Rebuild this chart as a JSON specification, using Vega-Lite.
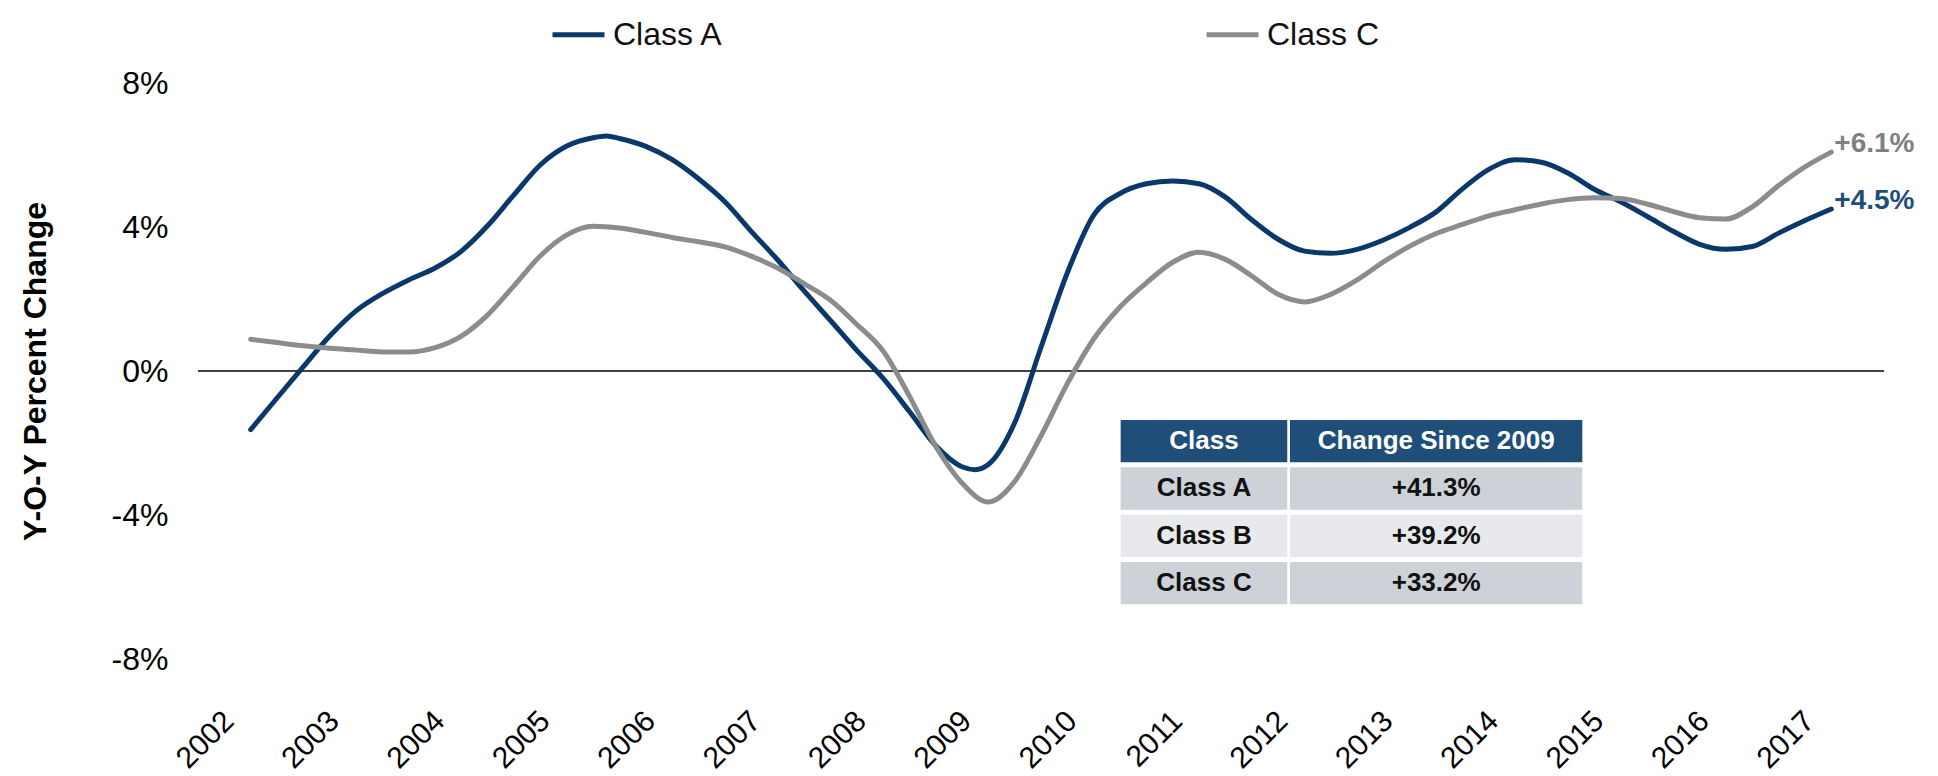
{
  "$schema": "https://vega.github.io/schema/vega-lite/v6.json",
  "width": 1686,
  "height": 576,
  "autosize": "none",
  "padding": {"left": 198, "top": 83, "right": 54, "bottom": 117},
  "background": "white",
  "config": {
    "font": "Liberation Sans, Arial, sans-serif",
    "view": {"stroke": null}
  },
  "datasets": {
    "series": [
      {"t": 2002.00, "series": "Class A", "v": -1.63},
      {"t": 2002.25, "series": "Class A", "v": -0.75},
      {"t": 2002.50, "series": "Class A", "v": 0.12},
      {"t": 2002.75, "series": "Class A", "v": 0.97},
      {"t": 2003.00, "series": "Class A", "v": 1.67},
      {"t": 2003.25, "series": "Class A", "v": 2.15},
      {"t": 2003.50, "series": "Class A", "v": 2.53},
      {"t": 2003.75, "series": "Class A", "v": 2.86},
      {"t": 2004.00, "series": "Class A", "v": 3.33},
      {"t": 2004.25, "series": "Class A", "v": 4.04},
      {"t": 2004.50, "series": "Class A", "v": 4.90},
      {"t": 2004.75, "series": "Class A", "v": 5.73},
      {"t": 2005.00, "series": "Class A", "v": 6.25},
      {"t": 2005.25, "series": "Class A", "v": 6.48},
      {"t": 2005.375, "series": "Class A", "v": 6.53},
      {"t": 2005.50, "series": "Class A", "v": 6.46},
      {"t": 2005.75, "series": "Class A", "v": 6.24},
      {"t": 2006.00, "series": "Class A", "v": 5.87},
      {"t": 2006.25, "series": "Class A", "v": 5.34},
      {"t": 2006.50, "series": "Class A", "v": 4.70},
      {"t": 2006.75, "series": "Class A", "v": 3.88},
      {"t": 2007.00, "series": "Class A", "v": 3.09},
      {"t": 2007.25, "series": "Class A", "v": 2.23},
      {"t": 2007.50, "series": "Class A", "v": 1.41},
      {"t": 2007.75, "series": "Class A", "v": 0.58},
      {"t": 2008.00, "series": "Class A", "v": -0.20},
      {"t": 2008.25, "series": "Class A", "v": -1.12},
      {"t": 2008.50, "series": "Class A", "v": -2.07},
      {"t": 2008.75, "series": "Class A", "v": -2.66},
      {"t": 2008.875, "series": "Class A", "v": -2.74},
      {"t": 2009.00, "series": "Class A", "v": -2.60},
      {"t": 2009.25, "series": "Class A", "v": -1.44},
      {"t": 2009.50, "series": "Class A", "v": 0.66},
      {"t": 2009.75, "series": "Class A", "v": 2.73},
      {"t": 2010.00, "series": "Class A", "v": 4.33},
      {"t": 2010.25, "series": "Class A", "v": 4.93},
      {"t": 2010.50, "series": "Class A", "v": 5.20},
      {"t": 2010.75, "series": "Class A", "v": 5.28},
      {"t": 2011.00, "series": "Class A", "v": 5.20},
      {"t": 2011.25, "series": "Class A", "v": 4.83},
      {"t": 2011.50, "series": "Class A", "v": 4.20},
      {"t": 2011.75, "series": "Class A", "v": 3.66},
      {"t": 2012.00, "series": "Class A", "v": 3.33},
      {"t": 2012.25, "series": "Class A", "v": 3.27},
      {"t": 2012.50, "series": "Class A", "v": 3.38},
      {"t": 2012.75, "series": "Class A", "v": 3.64},
      {"t": 2013.00, "series": "Class A", "v": 3.99},
      {"t": 2013.25, "series": "Class A", "v": 4.42},
      {"t": 2013.50, "series": "Class A", "v": 5.06},
      {"t": 2013.75, "series": "Class A", "v": 5.60},
      {"t": 2014.00, "series": "Class A", "v": 5.87},
      {"t": 2014.25, "series": "Class A", "v": 5.80},
      {"t": 2014.50, "series": "Class A", "v": 5.50},
      {"t": 2014.75, "series": "Class A", "v": 5.05},
      {"t": 2015.00, "series": "Class A", "v": 4.70},
      {"t": 2015.25, "series": "Class A", "v": 4.30},
      {"t": 2015.50, "series": "Class A", "v": 3.88},
      {"t": 2015.75, "series": "Class A", "v": 3.52},
      {"t": 2016.00, "series": "Class A", "v": 3.38},
      {"t": 2016.25, "series": "Class A", "v": 3.46},
      {"t": 2016.50, "series": "Class A", "v": 3.83},
      {"t": 2016.75, "series": "Class A", "v": 4.18},
      {"t": 2017.00, "series": "Class A", "v": 4.50},
      {"t": 2002.00, "series": "Class C", "v": 0.88},
      {"t": 2002.25, "series": "Class C", "v": 0.79},
      {"t": 2002.50, "series": "Class C", "v": 0.70},
      {"t": 2002.75, "series": "Class C", "v": 0.63},
      {"t": 2003.00, "series": "Class C", "v": 0.58},
      {"t": 2003.25, "series": "Class C", "v": 0.53},
      {"t": 2003.50, "series": "Class C", "v": 0.53},
      {"t": 2003.75, "series": "Class C", "v": 0.65},
      {"t": 2004.00, "series": "Class C", "v": 0.97},
      {"t": 2004.25, "series": "Class C", "v": 1.56},
      {"t": 2004.50, "series": "Class C", "v": 2.37},
      {"t": 2004.75, "series": "Class C", "v": 3.20},
      {"t": 2005.00, "series": "Class C", "v": 3.78},
      {"t": 2005.25, "series": "Class C", "v": 4.02},
      {"t": 2005.50, "series": "Class C", "v": 3.97},
      {"t": 2005.75, "series": "Class C", "v": 3.85},
      {"t": 2006.00, "series": "Class C", "v": 3.71},
      {"t": 2006.25, "series": "Class C", "v": 3.59},
      {"t": 2006.50, "series": "Class C", "v": 3.45},
      {"t": 2006.75, "series": "Class C", "v": 3.19},
      {"t": 2007.00, "series": "Class C", "v": 2.86},
      {"t": 2007.25, "series": "Class C", "v": 2.43},
      {"t": 2007.50, "series": "Class C", "v": 1.97},
      {"t": 2007.75, "series": "Class C", "v": 1.30},
      {"t": 2008.00, "series": "Class C", "v": 0.56},
      {"t": 2008.25, "series": "Class C", "v": -0.69},
      {"t": 2008.50, "series": "Class C", "v": -2.09},
      {"t": 2008.75, "series": "Class C", "v": -3.11},
      {"t": 2009.00, "series": "Class C", "v": -3.64},
      {"t": 2009.25, "series": "Class C", "v": -3.07},
      {"t": 2009.50, "series": "Class C", "v": -1.80},
      {"t": 2009.75, "series": "Class C", "v": -0.35},
      {"t": 2010.00, "series": "Class C", "v": 0.89},
      {"t": 2010.25, "series": "Class C", "v": 1.78},
      {"t": 2010.50, "series": "Class C", "v": 2.45},
      {"t": 2010.75, "series": "Class C", "v": 3.02},
      {"t": 2011.00, "series": "Class C", "v": 3.30},
      {"t": 2011.25, "series": "Class C", "v": 3.10},
      {"t": 2011.50, "series": "Class C", "v": 2.64},
      {"t": 2011.75, "series": "Class C", "v": 2.13},
      {"t": 2012.00, "series": "Class C", "v": 1.92},
      {"t": 2012.25, "series": "Class C", "v": 2.13},
      {"t": 2012.50, "series": "Class C", "v": 2.53},
      {"t": 2012.75, "series": "Class C", "v": 3.03},
      {"t": 2013.00, "series": "Class C", "v": 3.47},
      {"t": 2013.25, "series": "Class C", "v": 3.82},
      {"t": 2013.50, "series": "Class C", "v": 4.07},
      {"t": 2013.75, "series": "Class C", "v": 4.31},
      {"t": 2014.00, "series": "Class C", "v": 4.48},
      {"t": 2014.25, "series": "Class C", "v": 4.64},
      {"t": 2014.50, "series": "Class C", "v": 4.76},
      {"t": 2014.75, "series": "Class C", "v": 4.81},
      {"t": 2015.00, "series": "Class C", "v": 4.79},
      {"t": 2015.25, "series": "Class C", "v": 4.64},
      {"t": 2015.50, "series": "Class C", "v": 4.43},
      {"t": 2015.75, "series": "Class C", "v": 4.26},
      {"t": 2016.00, "series": "Class C", "v": 4.22},
      {"t": 2016.25, "series": "Class C", "v": 4.56},
      {"t": 2016.50, "series": "Class C", "v": 5.15},
      {"t": 2016.75, "series": "Class C", "v": 5.67},
      {"t": 2017.00, "series": "Class C", "v": 6.08}
    ],
    "table": [
      {"row": "Class", "c1": "Class", "c2": "Change Since 2009"},
      {"row": "Class A", "c1": "Class A", "c2": "+41.3%"},
      {"row": "Class B", "c1": "Class B", "c2": "+39.2%"},
      {"row": "Class C", "c1": "Class C", "c2": "+33.2%"}
    ]
  },
  "layer": [
    {
      "layer": [
        {
          "data": {"values": [{}]},
          "mark": {"type": "rule", "color": "#000000", "strokeWidth": 1.3},
          "encoding": {"y": {"datum": 0, "type": "quantitative"}}
        },
        {
          "data": {"name": "series"},
          "mark": {"type": "line", "interpolate": "monotone", "strokeWidth": 5, "strokeCap": "round", "strokeJoin": "round"},
          "encoding": {
            "x": {
              "field": "t", "type": "quantitative",
              "scale": {"domain": [2001.5, 2017.5], "nice": false, "zero": false},
              "axis": {
                "values": [2002, 2003, 2004, 2005, 2006, 2007, 2008, 2009, 2010, 2011, 2012, 2013, 2014, 2015, 2016, 2017],
                "format": "d", "title": null, "labelAngle": -45, "labelAlign": "right", "labelBaseline": "middle",
                "labelFontSize": 30, "labelColor": "#000000", "labelPadding": 57, "labelOffset": -22,
                "ticks": false, "domain": false, "grid": false, "labelFlush": false, "labelOverlap": false, "labelBound": false
              }
            },
            "y": {
              "field": "v", "type": "quantitative",
              "scale": {"domain": [-8, 8], "nice": false, "zero": false},
              "axis": {
                "values": [-8, -4, 0, 4, 8], "labelExpr": "datum.value + '%'",
                "labelFontSize": 32, "labelColor": "#000000", "labelPadding": 30,
                "ticks": false, "domain": false, "grid": false,
                "title": "Y-O-Y Percent Change", "titleFontSize": 32, "titleFontWeight": "bold", "titleColor": "#000000",
                "titleX": -163, "titleBaseline": "middle"
              }
            },
            "color": {
              "field": "series", "type": "nominal",
              "scale": {"domain": ["Class A", "Class C"], "range": ["#0B386A", "#8C8C8C"]},
              "legend": {
                "orient": "none", "legendX": 352, "legendY": -77, "direction": "horizontal", "columns": 2,
                "columnPadding": 472, "symbolType": "stroke", "symbolSize": 2704, "symbolStrokeWidth": 5,
                "labelFontSize": 32, "labelColor": "#111111", "labelOffset": 6, "title": null, "padding": 0
              }
            }
          }
        },
        {
          "data": {"name": "series"},
          "transform": [
            {"filter": "datum.t === 2017"},
            {"calculate": "format(datum.v, '+.1f') + '%'", "as": "label"}
          ],
          "mark": {"type": "text", "align": "left", "baseline": "middle", "dx": 3, "dy": -8, "fontSize": 28, "fontWeight": "bold"},
          "encoding": {
            "x": {"field": "t", "type": "quantitative"},
            "y": {"field": "v", "type": "quantitative"},
            "text": {"field": "label"},
            "color": {"condition": {"test": "datum.series === 'Class A'", "value": "#1F4E79"}, "value": "#808080"}
          }
        }
      ]
    },
    {
      "data": {"name": "table"},
      "encoding": {
        "y": {
          "field": "row", "type": "ordinal",
          "scale": {"type": "band", "domain": ["Class", "Class A", "Class B", "Class C"], "range": [337, 521.3], "paddingInner": 0.105, "paddingOuter": 0},
          "axis": null
        }
      },
      "layer": [
        {
          "mark": {"type": "rect"},
          "encoding": {
            "x": {"datum": 2010.256, "type": "quantitative", "axis": null, "scale": {"domain": [2001.5, 2017.5], "nice": false, "zero": false}},
            "x2": {"datum": 2011.837},
            "color": {"condition": [{"test": "datum.row === 'Class'", "value": "#1F4E79"}, {"test": "datum.row === 'Class B'", "value": "#E8E9EC"}], "value": "#CDD1D8"}
          }
        },
        {
          "mark": {"type": "rect"},
          "encoding": {
            "x": {"datum": 2011.863, "type": "quantitative", "axis": null},
            "x2": {"datum": 2014.637},
            "color": {"condition": [{"test": "datum.row === 'Class'", "value": "#1F4E79"}, {"test": "datum.row === 'Class B'", "value": "#E8E9EC"}], "value": "#CDD1D8"}
          }
        },
        {
          "mark": {"type": "text", "fontSize": 26, "fontWeight": "bold", "align": "center", "baseline": "middle"},
          "encoding": {
            "x": {"datum": 2011.047, "type": "quantitative", "axis": null},
            "text": {"field": "c1"},
            "color": {"condition": {"test": "datum.row === 'Class'", "value": "#FFFFFF"}, "value": "#111111"}
          }
        },
        {
          "mark": {"type": "text", "fontSize": 26, "fontWeight": "bold", "align": "center", "baseline": "middle"},
          "encoding": {
            "x": {"datum": 2013.25, "type": "quantitative", "axis": null},
            "text": {"field": "c2"},
            "color": {"condition": {"test": "datum.row === 'Class'", "value": "#FFFFFF"}, "value": "#111111"}
          }
        }
      ]
    }
  ],
  "resolve": {"scale": {"y": "independent", "x": "independent"}}
}
